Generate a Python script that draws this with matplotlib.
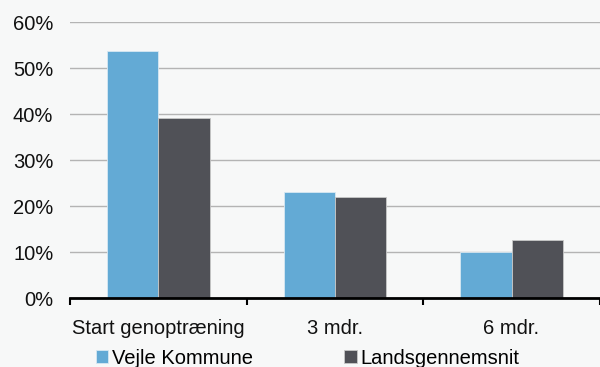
import numpy as np
import matplotlib.pyplot as plt
from matplotlib.ticker import PercentFormatter

categories = ["Start genoptræning", "3 mdr.", "6 mdr."]
series_names = ["Vejle Kommune", "Landsgennemsnit"]
vejle = [53.8, 23.0, 10.1]
lands = [39.1, 21.9, 12.6]
yticks = [0, 10, 20, 30, 40, 50, 60]

bg = "#f7f8f8"
colors = ["#63aad5", "#505157"]

plt.rcParams["font.family"] = ["Liberation Sans", "DejaVu Sans"]

fig = plt.figure(figsize=(6, 3.67), dpi=100, facecolor=bg)
ax = fig.add_axes([0.1167, 0.188, 0.883, 0.752], facecolor=bg)

x = np.arange(len(categories))
w = 0.29
ax.bar(x - w / 2, vejle, w, color=colors[0], edgecolor="#d8e8f2", linewidth=0.6,
       label=series_names[0], zorder=3)
ax.bar(x + w / 2, lands, w, color=colors[1], edgecolor="#c8c8c8", linewidth=0.6,
       label=series_names[1], zorder=3)

ax.set_xlim(-0.5, 2.5)
ax.set_ylim(0, 60)
ax.set_yticks(yticks)
ax.yaxis.set_major_formatter(PercentFormatter(decimals=0))
ax.grid(axis="y", color="#b4b4b4", linewidth=1, zorder=0)
ax.tick_params(axis="y", length=0, pad=12, labelsize=14.5, colors="#111111")

ax.set_xticks(np.arange(len(categories) + 1) - 0.5, minor=False)
ax.set_xticklabels([])
ax.set_xticks(x, minor=True)
ax.set_xticklabels(categories, minor=True)
ax.tick_params(axis="x", which="major", length=5, width=1.5, direction="out", color="black")
ax.tick_params(axis="x", which="minor", length=0, pad=15, labelsize=14.5, colors="#111111")

for s in ["top", "right", "left"]:
    ax.spines[s].set_visible(False)
ax.spines["bottom"].set_linewidth(2)
ax.spines["bottom"].set_color("black")
ax.spines["bottom"].set_zorder(4)

leg = ax.legend(loc="center", bbox_to_anchor=(0.4485, -0.218), ncol=2, frameon=False,
                fontsize=14.5, handlelength=0.6, handleheight=0.6, handletextpad=0.2,
                columnspacing=4.55, borderpad=0)

fig.savefig("out.png", dpi=100, facecolor=bg)
